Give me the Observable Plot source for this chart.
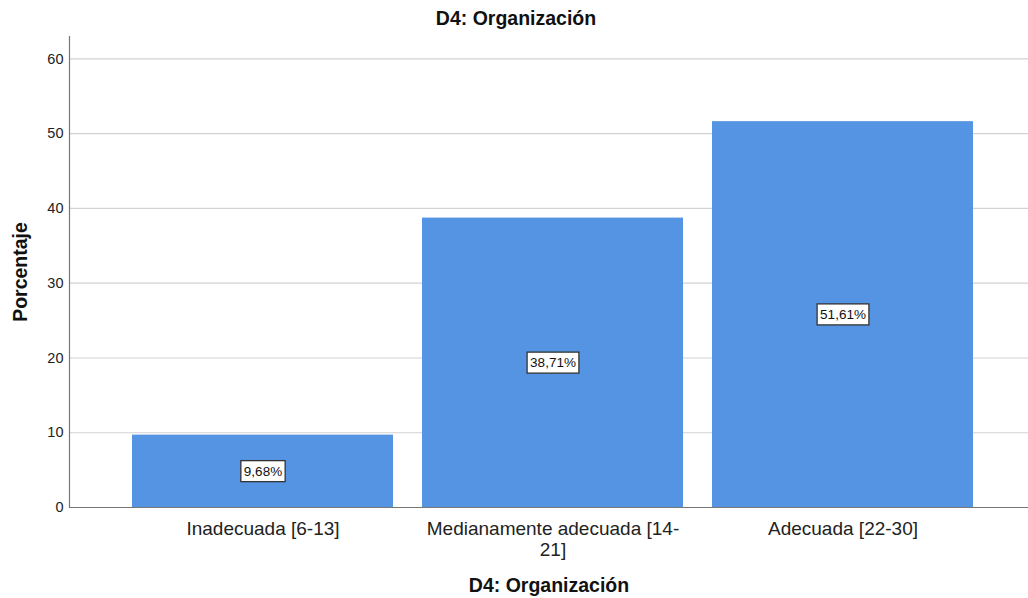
<!DOCTYPE html>
<html>
<head>
<meta charset="utf-8">
<script src="https://cdn.jsdelivr.net/npm/d3@7"></script>
<script src="https://cdn.jsdelivr.net/npm/@observablehq/plot@0.6"></script>
<style>
  html, body { margin: 0; padding: 0; background: #fff; }
  #title { width: 1028px; height: 36px; line-height: 37px; text-align: center; overflow: visible;
    font-family: "Liberation Sans", Arial, sans-serif; font-weight: bold; font-size: 19.5px; color: #111;
    padding-left: 4px; box-sizing: border-box; }
  #chart svg { display: block; }
</style>
</head>
<body>
<div id="title">D4: Organización</div>
<div id="chart"></div>
<script>
const categories = ["Inadecuada [6-13]", "Medianamente adecuada [14-21]", "Adecuada [22-30]"];
const tickLabels = ["Inadecuada [6-13]", "Medianamente adecuada [14-\n21]", "Adecuada [22-30]"];
const values = [9.68, 38.71, 51.61];
const valueLabels = ["9,68%", "38,71%", "51,61%"];
const yTicks = [0, 10, 20, 30, 40, 50, 60];
const xTitle = "D4: Organización";
const yTitle = "Porcentaje";

const data = categories.map((c, i) => ({cat: c, value: values[i], label: valueLabels[i]}));

const chart = Plot.plot({
  width: 1028,
  height: 562,
  marginLeft: 69,
  marginRight: 0,
  marginTop: 0,
  marginBottom: 91,
  style: {fontFamily: "'Liberation Sans', Arial, sans-serif", background: "white", color: "#222"},
  x: {domain: categories, paddingInner: 0.1, paddingOuter: 0.2, align: 0.534},
  y: {domain: [0, 63]},
  marks: [
    Plot.gridY(yTicks, {stroke: "#d2d2d2", strokeOpacity: 1, strokeWidth: 1.2}),
    Plot.barY(data, {x: "cat", y: "value", fill: "#5594e2"}),
    Plot.ruleY([0], {stroke: "#777", strokeWidth: 1.2}),
    Plot.frame({anchor: "left", stroke: "#777", strokeWidth: 1.2}),
    Plot.axisY({ticks: yTicks, tickSize: 0, tickPadding: 6, fontSize: 14.5, label: null}),
    Plot.axisX({tickSize: 0, tickPadding: 13, fontSize: 19, label: null, lineHeight: 1.08,
      tickFormat: d => tickLabels[categories.indexOf(d)]}),
    Plot.text(data, {x: "cat", y: d => d.value / 2, text: "label", fontSize: 13.5, fill: "#111"}),
    Plot.text([yTitle], {frameAnchor: "left", textAnchor: "middle", rotate: -90, dx: -49, text: d => d, fontWeight: "bold", fontSize: 19.5, fill: "#111"}),
    Plot.text([xTitle], {frameAnchor: "bottom", dy: 84, text: d => d, fontWeight: "bold", fontSize: 19.5, fill: "#111"})
  ]
});
document.getElementById("chart").appendChild(chart);

// draw white boxes behind value labels
const labelSet = new Set(valueLabels);
chart.querySelectorAll("text").forEach(t => {
  if (!labelSet.has(t.textContent)) return;
  const b = t.getBBox();
  const r = document.createElementNS("http://www.w3.org/2000/svg", "rect");
  r.setAttribute("x", b.x - 3);
  r.setAttribute("y", b.y - 3);
  r.setAttribute("width", b.width + 6);
  r.setAttribute("height", b.height + 6);
  r.setAttribute("fill", "white");
  r.setAttribute("stroke", "#333");
  r.setAttribute("stroke-width", 1.3);
  if (t.getAttribute("transform")) r.setAttribute("transform", t.getAttribute("transform"));
  t.parentNode.insertBefore(r, t);
});
</script>
</body>
</html>
